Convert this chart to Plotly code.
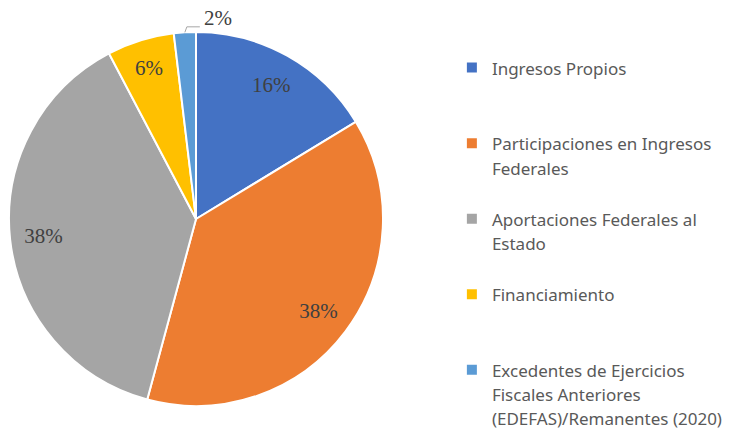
import math
import plotly.graph_objects as go

labels = [
    "Ingresos Propios",
    "Participaciones en Ingresos<br>Federales",
    "Aportaciones Federales al<br>Estado",
    "Financiamiento",
    "Excedentes de Ejercicios<br>Fiscales Anteriores<br>(EDEFAS)/Remanentes (2020)",
]
values = [16.3, 37.9, 38.1, 5.8, 1.9]
colors = ["#4472C4", "#ED7D31", "#A5A5A5", "#FFC000", "#5B9BD5"]
outside_label = [False, False, False, False, True]

W, H = 738, 437
# pie geometry in pixels (domain)
X0, X1, Y0, Y1 = 9, 383, 32, 406
cx, cy = (X0 + X1) / 2, (Y0 + Y1) / 2
R = min(X1 - X0, Y1 - Y0) / 2


def legend_label(s):
    n = s.count("<br>") + 1
    pad = "<br> " * max(0, 3 - n)
    return "<span style='font-size:17px'>" + s + "</span>" + pad


domain = dict(x=[X0 / W, X1 / W], y=[1 - Y1 / H, 1 - Y0 / H])
total = sum(values)

fig = go.Figure()
# main pie (slices + legend)
fig.add_trace(
    go.Pie(
        labels=[legend_label(l) for l in labels],
        values=values,
        sort=False,
        direction="clockwise",
        rotation=0,
        marker=dict(colors=colors, line=dict(color="white", width=2)),
        textinfo="none",
        hoverinfo="skip",
        domain=domain,
    )
)
# transparent ring that carries the inside percentage labels near the rim
fig.add_trace(
    go.Pie(
        labels=["ring%d" % i for i in range(len(values))],
        values=values,
        sort=False,
        direction="clockwise",
        rotation=0,
        hole=0.64,
        showlegend=False,
        marker=dict(colors=["rgba(0,0,0,0)"] * len(values), line=dict(width=0)),
        texttemplate=["" if o else "%{percent:.0%}" for o in outside_label],
        textposition="inside",
        insidetextorientation="horizontal",
        textfont=dict(family="Liberation Serif", size=21, color="#404040"),
        hoverinfo="skip",
        domain=domain,
    )
)

# outside label with elbow leader line for small slice(s)
shapes, annotations = [], []
cum = 0
for v, o in zip(values, outside_label):
    mid = (cum + v / 2) / total * 2 * math.pi
    cum += v
    if not o:
        continue
    ex = cx + R * math.sin(mid)
    ey = cy - R * math.cos(mid)
    kx, ky = ex + 2, ey - 5.5
    tx = kx + 13
    shapes.append(
        dict(
            type="path",
            xref="paper",
            yref="paper",
            path="M %f,%f L %f,%f L %f,%f" % (ex / W, 1 - ey / H, kx / W, 1 - ky / H, tx / W, 1 - ky / H),
            line=dict(color="#A6A6A6", width=1),
        )
    )
    annotations.append(
        dict(
            x=(tx + 2) / W,
            y=1 - (ky - 9) / H,
            xref="paper",
            yref="paper",
            xanchor="left",
            yanchor="middle",
            text="%d%%" % round(v / total * 100),
            showarrow=False,
            font=dict(family="Liberation Serif", size=21, color="#404040"),
        )
    )

fig.update_layout(
    width=W,
    height=H,
    margin=dict(l=0, r=0, t=0, b=0),
    paper_bgcolor="white",
    plot_bgcolor="white",
    showlegend=True,
    shapes=shapes,
    annotations=annotations,
    legend=dict(
        x=0.6123,
        y=0.8746,
        xanchor="left",
        yanchor="top",
        valign="top",
        font=dict(family="Noto Sans", size=18.6, color="#595959"),
        itemclick=False,
        itemdoubleclick=False,
    ),
)

fig.write_html("out.html")
